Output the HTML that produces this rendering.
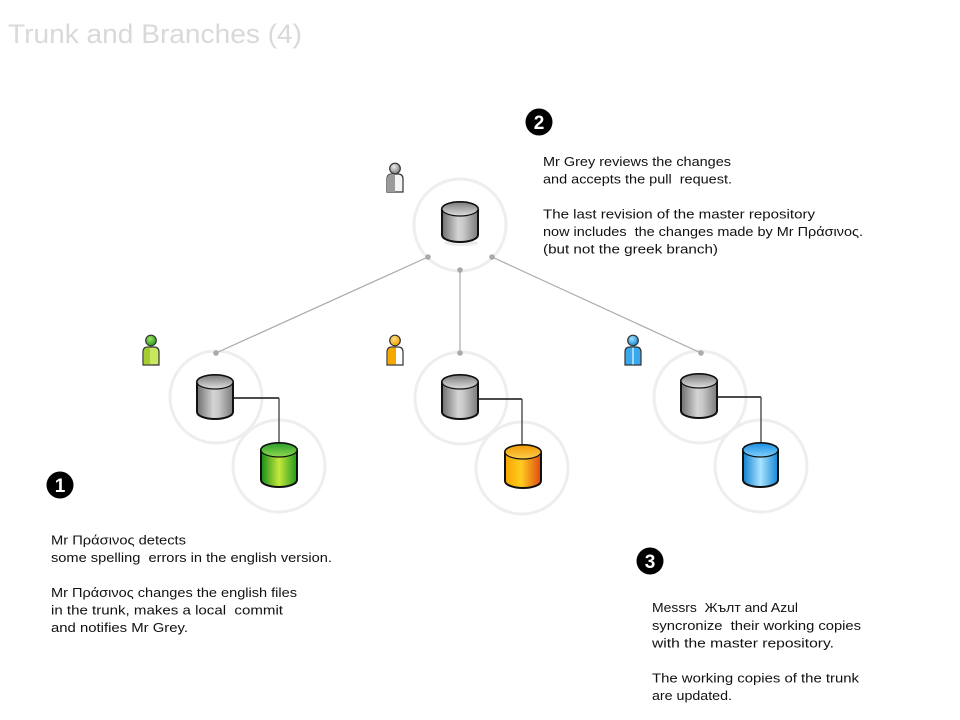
<!DOCTYPE html>
<html><head><meta charset="utf-8"><style>
html,body{margin:0;padding:0;background:#fff;}
svg{display:block;}
text{font-family:"Liberation Sans","DejaVu Sans",sans-serif;}
</style></head><body>
<svg width="960" height="720" viewBox="0 0 960 720" xmlns="http://www.w3.org/2000/svg">
<defs>
  <linearGradient id="gBody" x1="0" x2="1" y1="0" y2="0">
    <stop offset="0" stop-color="#6e6e6e"/><stop offset="0.45" stop-color="#d4d4d4"/><stop offset="0.6" stop-color="#c8c8c8"/><stop offset="1" stop-color="#7a7a7a"/>
  </linearGradient>
  <linearGradient id="gTop" x1="0" x2="0" y1="0" y2="1">
    <stop offset="0" stop-color="#7a7a7a"/><stop offset="1" stop-color="#e0e0e0"/>
  </linearGradient>
  <linearGradient id="grBody" x1="0" x2="1" y1="0" y2="0">
    <stop offset="0" stop-color="#138a1a"/><stop offset="0.5" stop-color="#c6e83c"/><stop offset="1" stop-color="#1f9a1e"/>
  </linearGradient>
  <linearGradient id="grTop" x1="0" x2="0" y1="0" y2="1">
    <stop offset="0" stop-color="#2a9c2a"/><stop offset="1" stop-color="#8fdc50"/>
  </linearGradient>
  <linearGradient id="orBody" x1="0" x2="1" y1="0" y2="0">
    <stop offset="0" stop-color="#f5a300"/><stop offset="0.45" stop-color="#ffcc20"/><stop offset="1" stop-color="#e04a10"/>
  </linearGradient>
  <linearGradient id="orTop" x1="0" x2="0" y1="0" y2="1">
    <stop offset="0" stop-color="#f09a00"/><stop offset="1" stop-color="#ffd050"/>
  </linearGradient>
  <linearGradient id="blBody" x1="0" x2="1" y1="0" y2="0">
    <stop offset="0" stop-color="#0f7fd0"/><stop offset="0.5" stop-color="#a8e4ff"/><stop offset="1" stop-color="#1585d5"/>
  </linearGradient>
  <linearGradient id="blTop" x1="0" x2="0" y1="0" y2="1">
    <stop offset="0" stop-color="#1a8ee0"/><stop offset="1" stop-color="#80d0ff"/>
  </linearGradient>
  <radialGradient id="hGray" cx="0.4" cy="0.35" r="0.7"><stop offset="0" stop-color="#eee"/><stop offset="1" stop-color="#777"/></radialGradient>
  <radialGradient id="hGreen" cx="0.4" cy="0.35" r="0.7"><stop offset="0" stop-color="#9fe060"/><stop offset="1" stop-color="#1f9a1e"/></radialGradient>
  <radialGradient id="hOrange" cx="0.4" cy="0.35" r="0.7"><stop offset="0" stop-color="#ffe080"/><stop offset="1" stop-color="#f09a00"/></radialGradient>
  <radialGradient id="hBlue" cx="0.4" cy="0.35" r="0.7"><stop offset="0" stop-color="#a0e0ff"/><stop offset="1" stop-color="#0f7fd0"/></radialGradient>
</defs>

<!-- Title -->
<text x="8" y="43" font-size="27" fill="#d9d9d9" textLength="294" lengthAdjust="spacingAndGlyphs">Trunk and Branches (4)</text>

<!-- halo circles -->
<g fill="none" stroke="#eeeeee" stroke-width="3">
  <circle cx="460" cy="225" r="46"/>
  <circle cx="216" cy="397" r="46"/>
  <circle cx="279" cy="466" r="46"/>
  <circle cx="461" cy="398" r="46"/>
  <circle cx="522" cy="468" r="46"/>
  <circle cx="700" cy="397" r="46"/>
  <circle cx="761" cy="466" r="46"/>
</g>

<!-- connectors to master -->
<g stroke="#aaaaaa" stroke-width="1.2" fill="none">
  <line x1="428" y1="257" x2="216" y2="353"/>
  <line x1="460" y1="270" x2="460" y2="353"/>
  <line x1="492" y1="257" x2="701" y2="353"/>
</g>
<g fill="#aaaaaa">
  <circle cx="428" cy="257" r="2.8"/><circle cx="460" cy="270" r="2.8"/><circle cx="492" cy="257" r="2.8"/>
  <circle cx="216" cy="353" r="2.8"/><circle cx="460" cy="353" r="2.8"/><circle cx="701" cy="353" r="2.8"/>
</g>

<!-- local connectors -->
<g fill="none" stroke-width="1.5">
  <path d="M233 398 H279" stroke="#111"/><path d="M279 398 V446" stroke="#555"/>
  <path d="M478 399 H522" stroke="#111"/><path d="M522 399 V447" stroke="#555"/>
  <path d="M717 397 H761" stroke="#111"/><path d="M761 397 V444" stroke="#555"/>
</g>

<!-- cylinders -->
<g stroke="#111" stroke-width="2">
  <!-- master -->
  <ellipse cx="461" cy="243" rx="17" ry="3" fill="#ddd" stroke="none" opacity="0.6"/>
  <path d="M442 209 A18 7 0 0 1 478 209 V235 A18 7 0 0 1 442 235 Z" fill="url(#gBody)"/>
  <ellipse cx="460" cy="209" rx="18" ry="7" fill="url(#gTop)" stroke-width="1.2"/>
  <!-- left gray -->
  <path d="M197 382 A18 7 0 0 1 233 382 V412 A18 7 0 0 1 197 412 Z" fill="url(#gBody)"/>
  <ellipse cx="215" cy="382" rx="18" ry="7" fill="url(#gTop)" stroke-width="1.2"/>
  <!-- green -->
  <path d="M261 450 A18 7 0 0 1 297 450 V480 A18 7 0 0 1 261 480 Z" fill="url(#grBody)"/>
  <ellipse cx="279" cy="450" rx="18" ry="7" fill="url(#grTop)" stroke-width="1.2"/>
  <!-- mid gray -->
  <path d="M442 382 A18 7 0 0 1 478 382 V412 A18 7 0 0 1 442 412 Z" fill="url(#gBody)"/>
  <ellipse cx="460" cy="382" rx="18" ry="7" fill="url(#gTop)" stroke-width="1.2"/>
  <!-- orange -->
  <path d="M505 452 A18 7 0 0 1 541 452 V481 A18 7 0 0 1 505 481 Z" fill="url(#orBody)"/>
  <ellipse cx="523" cy="452" rx="18" ry="7" fill="url(#orTop)" stroke-width="1.2"/>
  <!-- right gray -->
  <path d="M681 381 A18 7 0 0 1 717 381 V411 A18 7 0 0 1 681 411 Z" fill="url(#gBody)"/>
  <ellipse cx="699" cy="381" rx="18" ry="7" fill="url(#gTop)" stroke-width="1.2"/>
  <!-- blue -->
  <path d="M743 450 A17.5 7 0 0 1 778 450 V480 A17.5 7 0 0 1 743 480 Z" fill="url(#blBody)"/>
  <ellipse cx="760.5" cy="450" rx="17.5" ry="7" fill="url(#blTop)" stroke-width="1.2"/>
</g>

<!-- persons -->
<g stroke="#333" stroke-width="1.2">
  <!-- gray -->
  <path d="M387 192 V179 Q387 174 392 174 H398 Q403 174 403 179 V192 Z" fill="#f4f4f4"/>
  <path d="M387 192 V179 Q387 174 392 174 H395 V192 Z" fill="#9a9a9a" stroke="none"/>
  <circle cx="395" cy="168.5" r="5.3" fill="url(#hGray)"/>
  <!-- green -->
  <path d="M143 365 V352 Q143 347 148 347 H154 Q159 347 159 352 V365 Z" fill="#c8e860"/>
  <path d="M143.6 364.4 V352 Q143.6 347.6 148 347.6 H150 V364.4 Z" fill="#a5cc30" stroke="none"/>
  <circle cx="151" cy="340.5" r="5.3" fill="url(#hGreen)"/>
  <!-- orange -->
  <path d="M387 365 V352 Q387 347 392 347 H398 Q403 347 403 352 V365 Z" fill="#ffffff"/>
  <path d="M387.6 364.4 V352 Q387.6 347.6 392 347.6 H396 V364.4 Z" fill="#f5a800" stroke="none"/>
  <circle cx="395" cy="340.5" r="5.3" fill="url(#hOrange)"/>
  <!-- blue -->
  <path d="M625 365 V352 Q625 347 630 347 H636 Q641 347 641 352 V365 Z" fill="#3aa8ea"/>
  <path d="M632 347.6 H634 V364.4 H632 Z" fill="#9edcff" stroke="none"/>
  <circle cx="633" cy="340.5" r="5.3" fill="url(#hBlue)"/>
</g>

<!-- badges -->
<g>
  <circle cx="539" cy="122" r="13.5" fill="#000"/>
  <text x="539" y="129" font-size="19" font-weight="bold" fill="#fff" text-anchor="middle">2</text>
  <circle cx="60" cy="485" r="13.5" fill="#000"/>
  <text x="60" y="492" font-size="19" font-weight="bold" fill="#fff" text-anchor="middle">1</text>
  <circle cx="650" cy="561" r="13.5" fill="#000"/>
  <text x="650" y="568" font-size="19" font-weight="bold" fill="#fff" text-anchor="middle">3</text>
</g>

<!-- text blocks -->
<g font-size="13" fill="#111" lengthAdjust="spacingAndGlyphs">
  <text x="543" y="166" textLength="188" lengthAdjust="spacingAndGlyphs">Mr Grey reviews the changes</text>
  <text x="543" y="183.5" textLength="189" lengthAdjust="spacingAndGlyphs">and accepts the pull&#160; request.</text>
  <text x="543" y="218.5" textLength="272" lengthAdjust="spacingAndGlyphs">The last revision of the master repository</text>
  <text x="543" y="236" textLength="320" lengthAdjust="spacingAndGlyphs">now includes&#160; the changes made by Mr Πράσινος.</text>
  <text x="543" y="253.5" textLength="175" lengthAdjust="spacingAndGlyphs">(but not the greek branch)</text>

  <text x="51" y="544.5" textLength="135" lengthAdjust="spacingAndGlyphs">Mr Πράσινος detects</text>
  <text x="51" y="562" textLength="281" lengthAdjust="spacingAndGlyphs">some spelling&#160; errors in the english version.</text>
  <text x="51" y="597" textLength="246" lengthAdjust="spacingAndGlyphs">Mr Πράσινος changes the english files</text>
  <text x="51" y="614.5" textLength="232" lengthAdjust="spacingAndGlyphs">in the trunk, makes a local&#160; commit</text>
  <text x="51" y="632" textLength="137" lengthAdjust="spacingAndGlyphs">and notifies Mr Grey.</text>

  <text x="652" y="612" textLength="146" lengthAdjust="spacingAndGlyphs">Messrs&#160; Жълт and Azul</text>
  <text x="652" y="630" textLength="209" lengthAdjust="spacingAndGlyphs">syncronize&#160; their working copies</text>
  <text x="652" y="647.5" textLength="182" lengthAdjust="spacingAndGlyphs">with the master repository.</text>
  <text x="652" y="682.5" textLength="207" lengthAdjust="spacingAndGlyphs">The working copies of the trunk</text>
  <text x="652" y="700" textLength="80" lengthAdjust="spacingAndGlyphs">are updated.</text>
</g>
</svg>
</body></html>
